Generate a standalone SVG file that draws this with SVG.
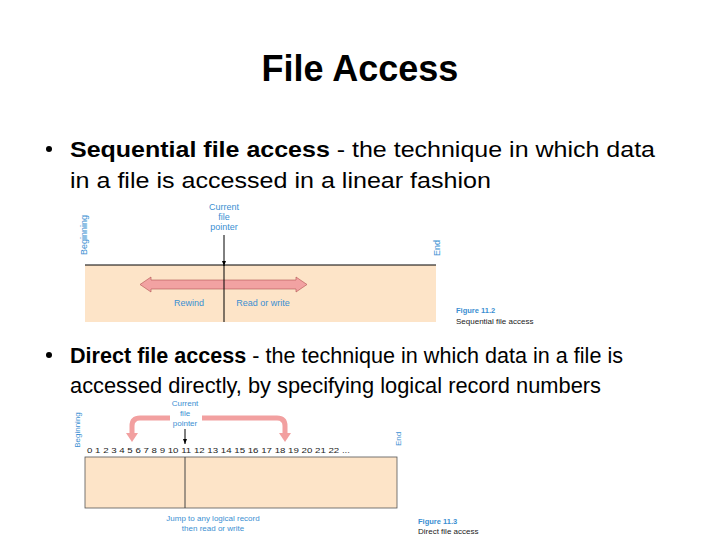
<svg xmlns="http://www.w3.org/2000/svg" width="720" height="540" viewBox="0 0 720 540">
<defs>
<style>
.title{font-family:"Liberation Sans",Arial,sans-serif;font-size:36px;font-weight:bold;fill:#000}
.body{font-family:"Liberation Sans",Arial,sans-serif;font-size:22px;fill:#000}
.b{font-weight:bold}
.lbl{font-family:"Liberation Sans",Arial,sans-serif;font-size:8px;fill:#3b8fd2}
.lbl9{font-family:"Liberation Sans",Arial,sans-serif;font-size:9px;fill:#3b8fd2}
.num{font-family:"Liberation Sans",Arial,sans-serif;font-size:7.5px;fill:#222}
.figh{font-family:"Liberation Sans",Arial,sans-serif;font-size:7.5px;font-weight:bold;fill:#3b8fd2}
.figc{font-family:"Liberation Sans",Arial,sans-serif;font-size:8px;fill:#222}
.file{fill:#fde4c8}
.ln{stroke:#000;stroke-width:1;fill:none}
.pink{stroke:#f2a0a0;stroke-width:5;fill:none}
</style>
<marker id="blk" viewBox="0 0 10 10" refX="10" refY="5" markerWidth="5" markerHeight="5" orient="auto">
<path d="M0,1 L10,5 L0,9 z" fill="#000"/>
</marker>
</defs>
<rect width="720" height="540" fill="#fff"/>
<text class="title" x="360" y="81" text-anchor="middle">File Access</text>
<g id="bullet1">
<circle cx="49" cy="149" r="3" fill="#000"/>
<text class="body" x="70" y="157" textLength="585" lengthAdjust="spacingAndGlyphs"><tspan class="b">Sequential file access</tspan> - the technique in which data</text>
<text class="body" x="70" y="188" textLength="421" lengthAdjust="spacingAndGlyphs">in a file is accessed in a linear fashion</text>
</g>
<g id="bullet2">
<circle cx="49" cy="355" r="3" fill="#000"/>
<text class="body" x="70" y="363" textLength="553" lengthAdjust="spacingAndGlyphs"><tspan class="b">Direct file access</tspan> - the technique in which data in a file is</text>
<text class="body" x="70" y="393" textLength="531" lengthAdjust="spacingAndGlyphs">accessed directly, by specifying logical record numbers</text>
</g>
<g id="seqFile">
<rect class="file" x="85" y="265" width="351" height="57"/>
<line class="ln" x1="85" y1="265" x2="436" y2="265"/>
<text class="lbl9" transform="translate(87,235) rotate(-90)" text-anchor="middle">Beginning</text>
<text class="lbl9" transform="translate(440,248) rotate(-90)" text-anchor="middle">End</text>
</g>
<g id="seqPointer">
<text class="lbl9" x="224" y="210" text-anchor="middle">Current</text>
<text class="lbl9" x="224" y="220" text-anchor="middle">file</text>
<text class="lbl9" x="224" y="230" text-anchor="middle">pointer</text>
</g>
<g id="seqArrows">
<line class="ln" x1="224" y1="235" x2="224" y2="266" marker-end="url(#blk)"/>
<path d="M140,284.5 L151,277 L151,280 L296,280 L296,277 L307,284.5 L296,292 L296,289 L151,289 L151,292 Z" fill="#f2a2a2" stroke="#b05050" stroke-width="0.6"/>
<line class="ln" x1="224" y1="265" x2="224" y2="322"/>
<text class="lbl9" x="189" y="306" text-anchor="middle">Rewind</text>
<text class="lbl9" x="263" y="306" text-anchor="middle">Read or write</text>
</g>
<g id="fig112">
<text class="figh" x="456" y="313">Figure 11.2</text>
<text class="figc" x="456" y="324">Sequential file access</text>
</g>
<g id="dirFile">
<rect class="file" x="85" y="457" width="312" height="51" stroke="#555" stroke-width="0.8"/>
<line x1="185" y1="457" x2="185" y2="508" stroke="#444" stroke-width="1"/>
<text class="num" x="87" y="453" textLength="263" lengthAdjust="spacingAndGlyphs">0 1 2 3 4 5 6 7 8 9 10 11 12 13 14 15 16 17 18 19 20 21 22 ...</text>
<text class="lbl" transform="translate(80,430) rotate(-90)" text-anchor="middle">Beginning</text>
<text class="lbl" transform="translate(401,439) rotate(-90)" text-anchor="middle">End</text>
</g>
<g id="dirPointer">
<text class="lbl" x="185" y="406" text-anchor="middle">Current</text>
<text class="lbl" x="185" y="416" text-anchor="middle">file</text>
<text class="lbl" x="185" y="426" text-anchor="middle">pointer</text>
</g>
<g id="dirArrows">
<line class="ln" x1="185" y1="429" x2="185" y2="444" marker-end="url(#blk)"/>
<path class="pink" d="M170,418 L140,418 Q132,418 132,426 L132,434"/>
<path d="M126,433 L138,433 L132,442 Z" fill="#f2a0a0"/>
<path class="pink" d="M202,418 L277,418 Q285,418 285,426 L285,434"/>
<path d="M279,433 L291,433 L285,442 Z" fill="#f2a0a0"/>
<text class="lbl" x="213" y="521" text-anchor="middle">Jump to any logical record</text>
<text class="lbl" x="213" y="531" text-anchor="middle">then read or write</text>
</g>
<g id="fig113">
<text class="figh" x="418" y="524">Figure 11.3</text>
<text class="figc" x="418" y="534">Direct file access</text>
</g>
</svg>
